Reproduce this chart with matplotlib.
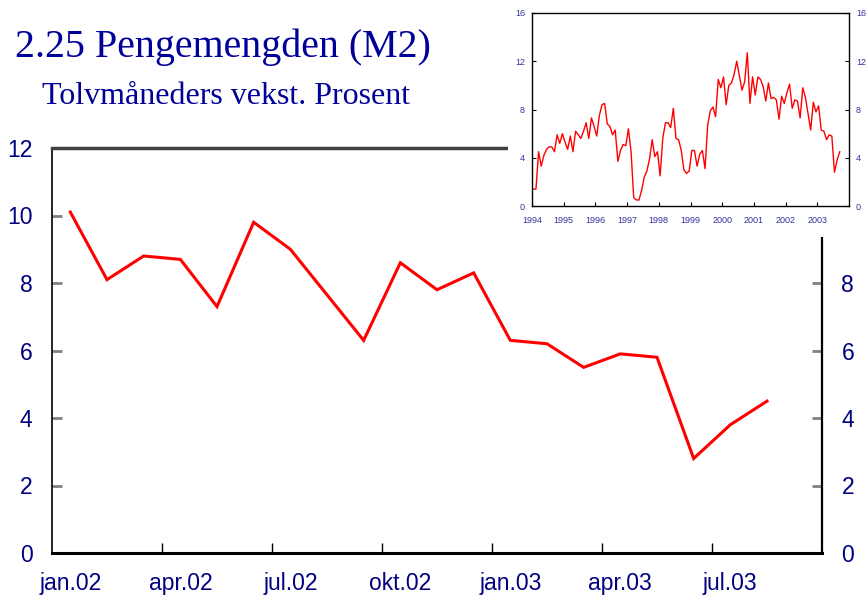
import matplotlib
matplotlib.use("Agg")
import matplotlib.pyplot as plt
from matplotlib.patches import Rectangle
import numpy as np

# ---- data ----
main_labels = ["jan.02", "apr.02", "jul.02", "okt.02", "jan.03", "apr.03", "jul.03"]
main_values = [10.1, 8.1, 8.8, 8.7, 7.3, 9.8, 9.0, 7.65, 6.3, 8.6, 7.8, 8.3,
               6.3, 6.2, 5.5, 5.9, 5.8, 2.8, 3.8, 4.5]
main_yticks = [0, 2, 4, 6, 8, 10, 12]

inset_values = [
    # 1994
    1.4, 1.4, 4.5, 3.3, 4.2, 4.7, 4.9, 4.9, 4.5, 5.9, 5.2, 6.0,
    # 1995
    5.3, 4.7, 5.8, 4.5, 6.2, 5.9, 5.6, 6.2, 6.9, 5.6, 7.3, 6.6,
    # 1996
    5.8, 7.5, 8.4, 8.5, 6.8, 6.6, 5.9, 6.3, 3.7, 4.6, 5.1, 5.0,
    # 1997
    6.4, 4.5, 0.7, 0.5, 0.5, 1.3, 2.4, 2.9, 3.9, 5.5, 4.1, 4.5,
    # 1998
    2.5, 5.6, 6.9, 6.9, 6.5, 8.1, 5.6, 5.5, 4.6, 3.0, 2.7, 2.9,
    # 1999
    4.6, 4.6, 3.3, 4.3, 4.6, 3.1, 6.7, 7.9, 8.2, 7.4, 10.5, 9.8,
    # 2000
    10.7, 8.4, 10.0, 10.2, 10.9, 12.0, 10.8, 9.6, 10.3, 12.7, 8.5, 10.7,
    # 2001
    9.2, 10.7, 10.5, 9.9, 8.7, 10.2, 8.9, 9.0, 8.8, 7.2, 9.1, 8.5, 9.4,
] + main_values
inset_start_year = 1994
inset_xticks = list(range(1994, 2004))
inset_yticks = [0, 4, 8, 12, 16]

title = "2.25 Pengemengden (M2)"
subtitle = "Tolvmåneders vekst. Prosent"

# ---- style ----
navy = "#000080"
title_col = "#000099"
inset_lab = "#333399"

fig = plt.figure(figsize=(8.68, 6.03), dpi=100)
fig.patch.set_facecolor("white")

# Main axes
ax = fig.add_axes([52/868, 1 - 553/603, 770/868, 405/603], zorder=0)
x = np.arange(len(main_values))
ax.plot(x, main_values, color="#FF0000", lw=2.2, solid_joinstyle="miter")
ax.set_xlim(-0.5, len(main_values) + 0.5)
ax.set_ylim(0, 12)
ax.set_yticks(main_yticks)
ax.set_yticklabels([str(v) for v in main_yticks])
ax.tick_params(axis="y", direction="in", length=7, width=2, color="#808080",
               labelsize=16.5, labelcolor=navy, pad=14, left=True, right=True,
               labelleft=True, labelright=True)
ax.set_xticks(np.arange(0, len(main_values), 3))
ax.set_xticklabels(main_labels)
ax.set_xticks(np.arange(2.5, 18, 3), minor=True)
ax.tick_params(axis="x", which="major", length=0, labelsize=16.5,
               labelcolor=navy, pad=14)
ax.tick_params(axis="x", which="minor", direction="in", length=7, width=1,
               color="black")
# right-side labels 10 and 12 are hidden behind the inset in the reference
for t, v in zip(ax.yaxis.get_major_ticks(), main_yticks):
    if v >= 10:
        t.label2.set_visible(False)
for lab in ax.get_xticklabels() + ax.get_yticklabels():
    lab.set_fontfamily("Liberation Sans")
ax.spines["left"].set_linewidth(1.2)
ax.spines["bottom"].set_linewidth(2.2)
ax.spines["right"].set_linewidth(1.6)
ax.spines["top"].set_linewidth(2.5)
ax.spines["top"].set_color("#404040")

# white box covering main axes under inset
fig.patches.append(Rectangle((508/868, 1 - 237/603), 1 - 508/868, 237/603,
                             transform=fig.transFigure, facecolor="white",
                             edgecolor="none", zorder=1))

# Inset axes
ins = fig.add_axes([532/868, 1 - 206/603, 317/868, 193/603], zorder=2)
xi = inset_start_year + (np.arange(len(inset_values)) + 0.5) / 12.0
ins.plot(xi, inset_values, color="#FF0000", lw=1.0)
ins.set_xlim(1994, 2004)
ins.set_ylim(0, 16)
ins.set_xticks(inset_xticks)
ins.set_xticklabels([str(v) for v in inset_xticks])
ins.set_yticks(inset_yticks)
ins.set_yticklabels([str(v) for v in inset_yticks])
ins.tick_params(axis="both", direction="in", length=3, width=0.8,
                labelsize=6.5, labelcolor=inset_lab)
ins.tick_params(axis="x", pad=7)
ins.tick_params(axis="y", pad=5, left=True, right=True, labelleft=True,
                labelright=True)
for lab in ins.get_xticklabels() + ins.get_yticklabels():
    lab.set_fontfamily("Liberation Sans")
for s in ins.spines.values():
    s.set_linewidth(1.0)

# Titles
fig.text(15/868, 1 - 57/603, title, fontsize=28.8, color=title_col,
         family="Liberation Serif", ha="left", va="baseline")
fig.text(42/868, 1 - 104/603, subtitle, fontsize=23, color=title_col,
         family="Liberation Serif", ha="left", va="baseline")

fig.savefig("out.png", dpi=100)
